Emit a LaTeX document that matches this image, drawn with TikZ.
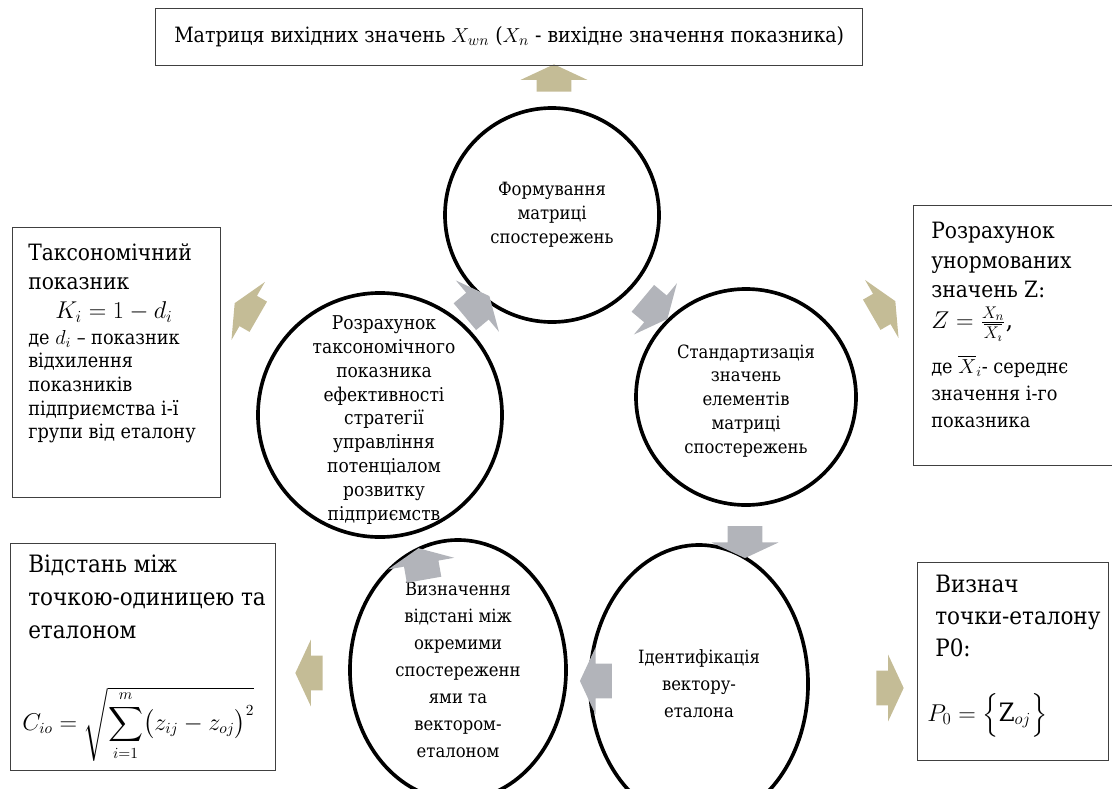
\documentclass[tikz,border=0pt]{standalone}
\usepackage{amsmath}
\usepackage{fontspec}
\setmainfont{DejaVu Serif Condensed}
\usetikzlibrary{shapes.geometric,shapes.arrows}
\definecolor{tanarrow}{RGB}{196,188,150}
\definecolor{greyarrow}{RGB}{178,180,186}
\tikzset{
    stage/.style={ellipse, draw=black, line width=2.6pt, inner sep=0pt},
    stagetext/.style={align=center, inner sep=0pt, font=\fontsize{13}{17}\selectfont},
    infobox/.style={draw=black!75, line width=0.8pt, rectangle, inner sep=0pt},
    infotext/.style={align=left, anchor=north west, inner sep=0pt},
    cyclearrow/.style={single arrow, fill=greyarrow, inner xsep=0pt, inner ysep=0.43cm,
        minimum height=0.8cm, single arrow head extend=0.4cm, single arrow tip angle=130},
    outarrow/.style={cyclearrow, fill=tanarrow, minimum height=0.68cm},
}
\begin{document}
\begin{tikzpicture}[x=0.025cm, y=-0.025cm]
    \useasboundingbox (0,0) rectangle (1112,789);
    % етапи
    \node[stage, minimum width=5.35cm, minimum height=5.35cm] (form) at (552,215) {};
    \node[stage, minimum width=5.5cm, minimum height=5.4cm] (stand) at (746,397) {};
    \node[stage, minimum width=5.45cm, minimum height=6.95cm] (ident) at (699,684) {};
    \node[stage, minimum width=5.4cm, minimum height=6.5cm] (dist) at (458,670) {};
    \node[stage, minimum width=6.1cm, minimum height=6.1cm] (taxon) at (380,415) {};
    \node[stagetext] (formtext) at (form) {Формування\\матриці\\спостережень};
    \node[stagetext] (standtext) at (746,401) {Стандартизація\\значень\\елементів\\матриці\\спостережень};
    \node[stagetext, font=\fontsize{13}{19.2}\selectfont] (identtext) at (699,684) {Ідентифікація\\вектору-\\еталона};
    \node[stagetext, font=\fontsize{13}{19.2}\selectfont] (disttext) at (458,670) {Визначення\\відстані між\\окремими\\спостереженн\\ями та\\вектором-\\еталоном};
    \node[stagetext, font=\fontsize{13.5}{17}\selectfont] (taxontext) at (384,420) {Розрахунок\\таксономічного\\показника\\ефективності\\стратегії\\управління\\потенціалом\\розвитку\\підприємств};
    % стрілки
    \foreach \nm/\px/\py/\ang in {ga1/652/306/-40, ga2/745/538/-90, ga3/600/681/180, ga4/422/568/100, ga5/474/309/40}
        \node[cyclearrow, rotate=\ang] (\nm) at (\px,\py) {};
    \foreach \nm/\px/\py/\ang in {ta1/554/82/90, ta2/880/310/30, ta3/886/688/0, ta4/313/673/180, ta5/250/312/150}
        \node[outarrow, rotate=\ang] (\nm) at (\px,\py) {};
    % блоки
    \node[infobox, minimum width=17.675cm, minimum height=1.425cm, anchor=north west,
        font=\fontsize{15}{19}\selectfont] (matrixbox) at (155,8)
        {Матриця вихідних значень $X_{wn}$ ($X_n$ - вихідне значення показника)};
    \node[infobox, minimum width=5.2cm, minimum height=6.75cm, anchor=north west] (taxbox) at (12,227) {};
    \node[infotext, font=\fontsize{16}{20.6}\selectfont] (taxhead) at (28,243) {Таксономічний\\показник};
    \node[inner sep=0pt, font=\fontsize{18}{20}\selectfont] (taxform) at (114,312) {$K_i = 1 - d_i$};
    \node[infotext, font=\fontsize{14}{16.8}\selectfont] (taxbody) at (28,330)
        {де $d_i$ – показник\\відхилення\\показників\\підприємства і-ї\\групи від еталону};
    \node[infobox, minimum width=5.3cm, minimum height=6.5cm, anchor=north west] (normbox) at (913,205) {};
    \node[infotext, font=\fontsize{16}{21}\selectfont] (normhead) at (931,222) {Розрахунок\\унормованих\\значень Z:};
    \node[inner sep=0pt, anchor=west, font=\fontsize{18}{21}\selectfont] (normform) at (931,324)
        {$Z = \frac{X_n}{\overline{X_\imath}}$,};
    \node[infotext, font=\fontsize{14}{19.2}\selectfont] (normbody) at (931,355)
        {де $\overline{X}_i$- середнє\\значення і-го\\показника};
    \node[infobox, minimum width=6.625cm, minimum height=5.675cm, anchor=north west] (distbox) at (10,543) {};
    \node[infotext, font=\fontsize{17}{23.5}\selectfont] (disthead) at (28,555) {Відстань між\\точкою-одиницею та\\еталоном};
    \node[inner sep=0pt, anchor=west, font=\fontsize{16}{19}\selectfont] (distform) at (22,724)
        {$C_{io} = \sqrt{\displaystyle\sum_{i=1}^{m}\bigl(z_{ij} - z_{oj}\bigr)^2}$};
    \node[infobox, minimum width=4.775cm, minimum height=4.95cm, anchor=north west] (pointbox) at (917,562) {};
    \node[infotext, font=\fontsize{17}{22.8}\selectfont] (pointhead) at (935,575) {Визнач\\точки-еталону\\P0:};
    \node[inner sep=0pt, anchor=west, font=\fontsize{18}{21}\selectfont] (pointform) at (927,715)
        {$P_0 = \Bigl\{\mathrm{Z}_{oj}\Bigr\}$};
\end{tikzpicture}
\end{document}
